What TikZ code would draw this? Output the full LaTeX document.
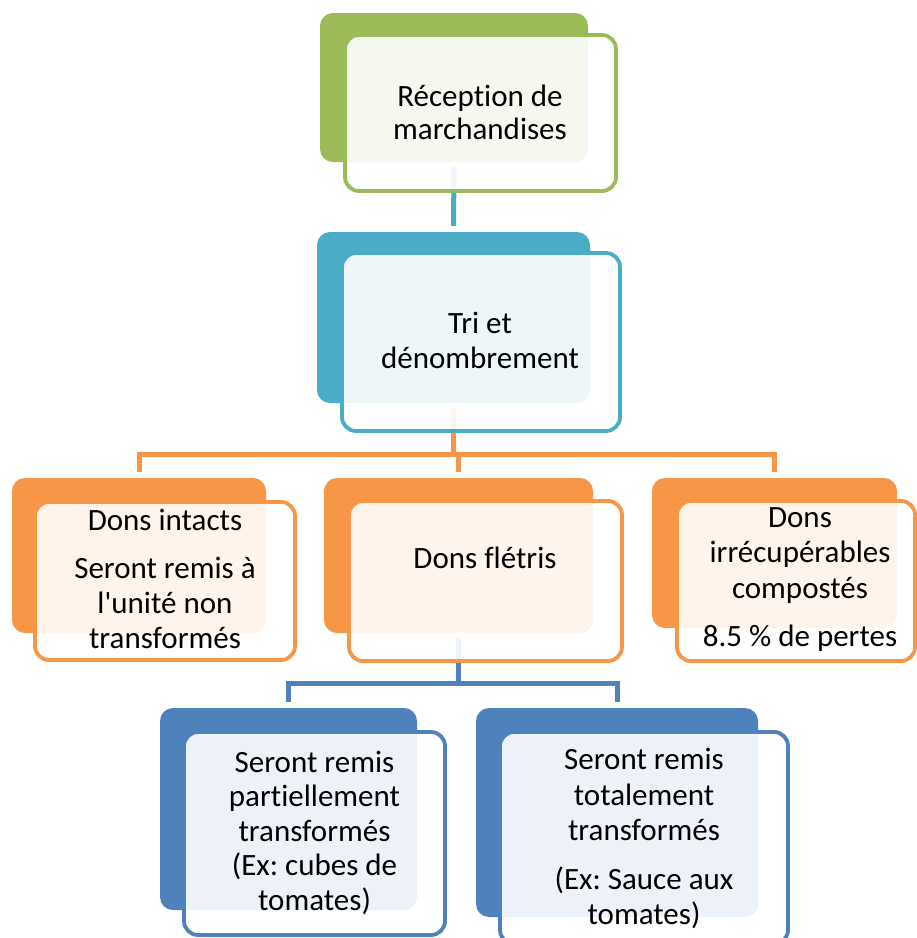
\documentclass[tikz,border=0pt]{standalone}
\usepackage{fontspec}
\setmainfont{Carlito}[Ligatures={TeX,NoCommon}]
\usetikzlibrary{backgrounds}
\definecolor{cgreen}{HTML}{9BBB59}
\definecolor{cteal}{HTML}{4BACC6}
\definecolor{corange}{HTML}{F79646}
\definecolor{cblue}{HTML}{4F81BD}
\newcommand\txtstack[1]{\vtop{\halign{\hfil##\hfil\cr#1\crcr}}}
\newcommand\pgap{\noalign{\vskip 13pt}}
\frenchspacing
\begin{document}
\begin{tikzpicture}[x=1pt,y=-1pt,
  back/.style={rectangle, rounded corners=13pt, fill=#1, inner sep=0pt, draw=none},
  front/.style={rectangle, rounded corners=14pt, draw=#1, line width=3.8pt, fill=white, fill opacity=0.9, inner sep=0pt},
  lbl/.style={anchor=base, inner sep=0pt, text=black, font=\fontsize{31}{#1}\selectfont},
  lbl/.default=35,
  conn/.style={draw=#1, line width=5pt, line join=miter, shorten <=5pt, shorten >=6pt}]
\useasboundingbox (0,0) rectangle (917,938);
\clip (0,0) rectangle (917,938);

% helper coordinates for the elbow levels
\coordinate (m2) at (0,454);
\coordinate (m3) at (0,683);

% ---- back boxes ----
\node[back=cgreen,  minimum width=268pt, minimum height=149pt] (n1) at (454,87.5) {};
\node[back=cteal,   minimum width=273pt, minimum height=171pt] (n2) at (453.5,317.5) {};
\node[back=corange, minimum width=254pt, minimum height=155pt] (n3a) at (139,555.5) {};
\node[back=corange, minimum width=269pt, minimum height=155pt] (n3b) at (458.5,555.5) {};
\node[back=corange, minimum width=245pt, minimum height=150pt] (n3c) at (774.5,553) {};
\node[back=cblue,   minimum width=257pt, minimum height=202pt] (n4a) at (288.5,809) {};
\node[back=cblue,   minimum width=282pt, minimum height=209pt] (n4b) at (617,812.5) {};

% ---- connectors (beneath the boxes) ----
\begin{scope}[on background layer]
\draw[conn=cteal] (n1.south) -- (n2.north);
\draw[conn=corange] (n2.south) -- (n2.south |- m2) -| (n3a.north);
\draw[conn=corange] (n2.south) -- (n2.south |- m2) -| (n3b.north);
\draw[conn=corange] (n2.south) -- (n2.south |- m2) -| (n3c.north);
\draw[conn=cblue] (n3b.south) -- (n3b.south |- m3) -| (n4a.north);
\draw[conn=cblue] (n3b.south) -- (n3b.south |- m3) -| (n4b.north);
\end{scope}

% ---- front boxes ----
\node[front=cgreen,  minimum width=271pt, minimum height=156pt] (f1) at (480.5,113) {};
\node[front=cteal,   minimum width=278pt, minimum height=178pt] (f2) at (481,342) {};
\node[front=corange, minimum width=260pt, minimum height=158pt] (f3a) at (165,581) {};
\node[front=corange, minimum width=273pt, minimum height=160pt] (f3b) at (485.5,581) {};
\node[front=corange, minimum width=238pt, minimum height=160pt] (f3c) at (796,581) {};
\node[front=cblue,   minimum width=261pt, minimum height=203pt] (f4a) at (314.5,833.5) {};
\node[front=cblue,   minimum width=288pt, minimum height=212pt] (f4b) at (644,838) {};

% ---- labels ----
\node[lbl=33] (t1) at (480,106) {\txtstack{Réception de\cr marchandises}};
\node[lbl=35] (t2) at (480,333) {\txtstack{Tri et\cr dénombrement}};
\node[lbl=35] (t3a) at (165,530) {\txtstack{Dons intacts\cr\pgap Seront remis à\cr l\textquotesingle unité non\cr transformés}};
\node[lbl=35] (t3b) at (485,568) {\txtstack{Dons flétris}};
\node[lbl=35.5] (t3c) at (800,527) {\txtstack{Dons\cr irrécupérables\cr compostés\cr\pgap 8.5 \% de pertes}};
\node[lbl=34.5] (t4a) at (314.5,772) {\txtstack{Seront remis\cr partiellement\cr transformés\cr (Ex: cubes de\cr tomates)}};
\node[lbl=35.5] (t4b) at (644,769.5) {\txtstack{Seront remis\cr totalement\cr transformés\cr\pgap (Ex: Sauce aux\cr tomates)}};
\end{tikzpicture}
\end{document}
